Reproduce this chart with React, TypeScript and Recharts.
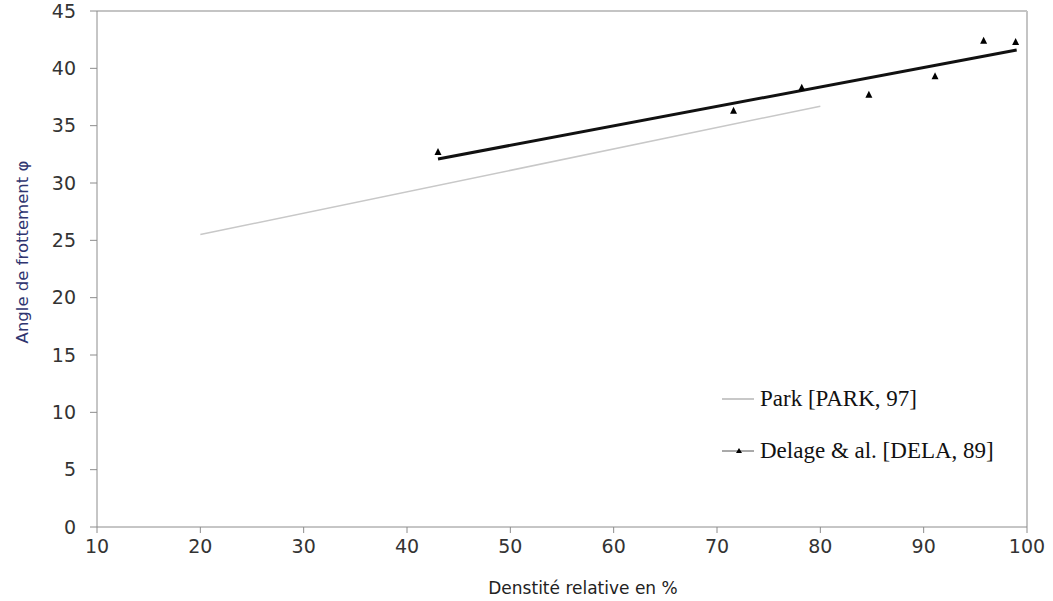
import { ScatterChart, Scatter, XAxis, YAxis, ReferenceLine, Label } from "recharts"

// Park [PARK, 97] - straight line (end points)
const parkLine = [
  { x: 20, y: 25.5 },
  { x: 80, y: 36.7 },
]

// Delage & al. [DELA, 89] - measured points
const delageX = [43, 71.6, 78.2, 84.7, 91.1, 95.8, 98.9]
const delageY = [32.7, 36.3, 38.3, 37.7, 39.3, 42.4, 42.3]

// trend line drawn through the Delage points (end points)
const delageTrend = [
  { x: 43, y: 32.1 },
  { x: 99, y: 41.6 },
]

const xTicks = [10, 20, 30, 40, 50, 60, 70, 80, 90, 100]
const yTicks = [0, 5, 10, 15, 20, 25, 30, 35, 40, 45]

const legendNames = ["Park [PARK, 97]", "Delage & al. [DELA, 89]"]

const delagePoints = delageX.map((x, i) => ({ x, y: delageY[i] }))

const tickStyle = { fontSize: 19, fontFamily: "DejaVu Sans", fill: "#333" }
const axisGray = "#8c8c8c"
const frameGray = "#c4c4c4"

const Triangle = (props: any) => {
  const { cx, cy } = props
  return <path d={`M${cx},${cy - 4} L${cx + 3.5},${cy + 3} L${cx - 3.5},${cy + 3} Z`} fill="#000" />
}

const NoMark = () => <g />

// legend sits inside the plot area, drawn as an overlay so it does not shrink the plot
const LegendBox = () => (
  <div
    style={{
      position: "absolute",
      left: 720,
      top: 384,
      fontFamily: "Liberation Serif",
      fontSize: 23,
      color: "#111",
      lineHeight: "30px",
    }}
  >
    <div style={{ display: "flex", alignItems: "center", height: 30 }}>
      <svg width={40} height={10}>
        <line x1={2} y1={5} x2={34} y2={5} stroke="#c8c8c8" strokeWidth={2} />
      </svg>
      <span>{legendNames[0]}</span>
    </div>
    <div style={{ display: "flex", alignItems: "center", height: 30, marginTop: 22 }}>
      <svg width={40} height={10}>
        <line x1={2} y1={5} x2={34} y2={5} stroke="#555" strokeWidth={1} />
        <path d="M19,2 L22,7 L16,7 Z" fill="#000" />
      </svg>
      <span>{legendNames[1]}</span>
    </div>
  </div>
)

export default function App() {
  return (
    <div style={{ position: "absolute", left: 0, top: 0, width: 1053, height: 601, background: "#fff" }}>
      <ScatterChart width={1053} height={601} margin={{ top: 11, right: 26, left: 37, bottom: 34 }}>
        <XAxis
          type="number"
          dataKey="x"
          domain={[10, 100]}
          ticks={xTicks}
          interval={0}
          height={40}
          stroke={axisGray}
          tickSize={6}
          tickMargin={7}
          tick={tickStyle}
        >
          <Label
            content={(props: any) => {
              const vb = props.viewBox
              return (
                <text
                  x={vb.x + vb.width / 2 + 21}
                  y={vb.y + vb.height + 27}
                  textAnchor="middle"
                  fontFamily="DejaVu Sans"
                  fontSize={17}
                  fill="#222"
                >
                  Denstité relative en %
                </text>
              )
            }}
          />
        </XAxis>
        <YAxis
          type="number"
          dataKey="y"
          domain={[0, 45]}
          ticks={yTicks}
          interval={0}
          width={60}
          stroke={axisGray}
          tickSize={7}
          tickMargin={14}
          tick={tickStyle}
        >
          <Label
            content={(props: any) => {
              const vb = props.viewBox
              const cx = vb.x - 15
              const cy = vb.y + vb.height / 2 - 17
              return (
                <text
                  x={cx}
                  y={cy}
                  transform={`rotate(-90, ${cx}, ${cy})`}
                  textAnchor="middle"
                  dominantBaseline="central"
                  fontFamily="DejaVu Sans"
                  fontSize={16.5}
                  fill="#2f3570"
                >
                  Angle de frottement φ
                </text>
              )
            }}
          />
        </YAxis>
        <ReferenceLine y={45} stroke={frameGray} strokeWidth={2} />
        <ReferenceLine x={100} stroke={frameGray} strokeWidth={2} />
        <Scatter
          name={legendNames[0]}
          data={parkLine}
          line={{ stroke: "#c8c8c8", strokeWidth: 1.5 }}
          shape={NoMark}
          isAnimationActive={false}
        />
        <Scatter
          name="trend"
          data={delageTrend}
          line={{ stroke: "#111", strokeWidth: 3 }}
          shape={NoMark}
          isAnimationActive={false}
        />
        <Scatter name={legendNames[1]} data={delagePoints} shape={Triangle} isAnimationActive={false} />
      </ScatterChart>
      <LegendBox />
    </div>
  )
}
